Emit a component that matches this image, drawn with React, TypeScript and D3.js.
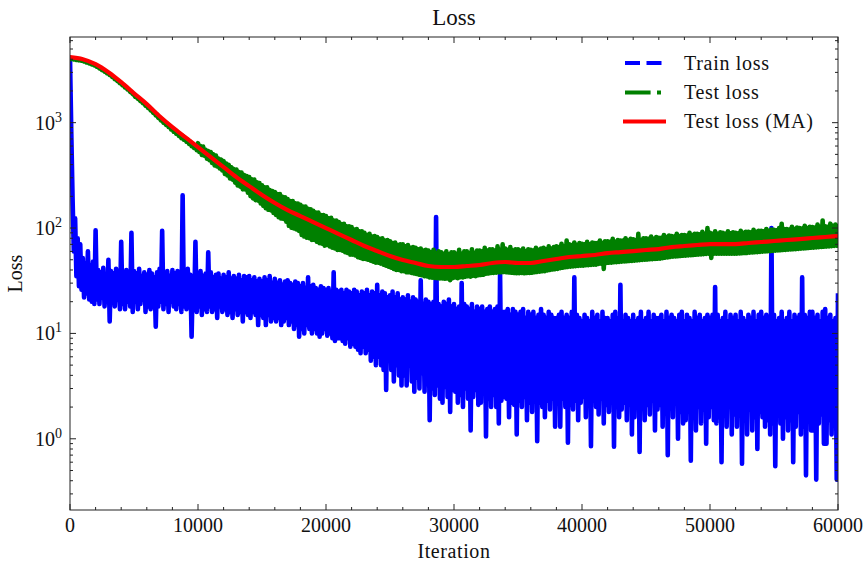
import React from 'react';
import * as d3 from 'd3';

const TOTAL_ITERS = 60000;
const MA_STEP = 1000;

// Train loss, one value every 100 iterations (rows = 1000 iterations)
const TRAIN_LOSS = [
  4100, 800, 190, 60, 124, 35, 80, 28, 70, 26,
  52, 22, 46, 24, 60, 21, 44, 20, 48, 19,
  95, 21, 40, 19, 38, 22, 42, 18, 36, 20,
  50, 13, 39, 20, 37, 18, 41, 21, 35, 17,
  74, 19, 38, 17, 40, 20, 36, 18, 90, 16,
  39, 20, 37, 17, 41, 19, 35, 21, 38, 16,
  36, 18, 40, 17, 37, 19, 34, 11.6, 38, 18,
  41, 20, 94, 17, 36, 19, 39, 16, 35, 20,
  40, 18, 37, 17, 39, 19, 36, 16, 205, 18,
  38, 17, 41, 19, 36, 9.3, 35, 18, 74, 16,
  36, 18, 39, 15, 35, 17, 37, 16, 59, 18,
  38, 16, 34, 17, 36, 14, 37, 18, 33, 16,
  36, 17, 34, 15, 38, 16, 33, 14, 35, 17,
  33, 15, 36, 16, 32, 13, 35, 16, 34, 15,
  35, 14, 32, 16, 34, 15, 31, 12, 33, 15,
  31, 14, 34, 12, 32, 15, 35, 13, 30, 14,
  33, 13, 30, 14, 32, 12, 29, 13, 31, 14,
  32, 12, 30, 13, 29, 11, 31, 12, 30, 9.3,
  28, 11, 30, 10, 27, 12, 34, 11, 28, 10,
  29, 11, 27, 10, 26, 9.3, 28, 10, 27, 11,
  26, 9.5, 27, 10, 25, 9, 38, 8.5, 26, 9,
  25, 9, 26, 8.5, 24, 8, 26, 9, 25, 7.5,
  24, 8, 26, 7.5, 25, 7, 23, 6.5, 25, 7.5,
  24, 6.5, 26, 7, 23, 5.5, 25, 6, 24, 5,
  29, 6, 23, 5, 25, 4.5, 24, 2.9, 22, 5.5,
  23, 4.5, 25, 3.5, 22, 5, 24, 4, 21, 3.2,
  22, 4, 21, 3.2, 23, 5, 20, 3.5, 22, 2.8,
  21, 3.8, 20, 3.0, 32, 4.2, 19, 2.8, 21, 3.3,
  20, 1.5, 19, 3, 20, 2.6, 127, 3.2, 19, 2.4,
  18, 2.2, 20, 3.1, 19, 2.5, 21, 1.8, 18, 2.9,
  19, 2.8, 17, 2.2, 18, 2.6, 30, 2.0, 19, 3,
  18, 2.4, 17, 1.2, 19, 2.5, 16, 2.9, 18, 2.1,
  17, 2.2, 18, 2.7, 16, 1.05, 17, 2.4, 18, 2.0,
  16, 2.6, 17, 2.0, 18, 1.4, 37, 2.3, 16, 2.5,
  16, 2.4, 17, 1.6, 15, 2.2, 17, 2.1, 16, 1.1,
  15, 2.3, 16, 2.0, 17, 2.5, 14, 1.5, 16, 2.2,
  15, 1.8, 16, 2.5, 14, 0.95, 15, 2.2, 17, 2.0,
  15, 1.6, 14, 2.3, 16, 1.9, 15, 2.4, 14, 1.3,
  14, 2.2, 15, 1.3, 16, 2.4, 14, 2.0, 15, 0.92,
  14, 2.1, 16, 1.9, 34, 2.3, 15, 1.5, 14, 2.2,
  13, 2.5, 15, 1.6, 14, 2.1, 13, 0.85, 16, 2.3,
  14, 2.0, 15, 1.7, 13, 2.4, 16, 1.4, 14, 2.1,
  14, 1.8, 13, 2.4, 15, 0.84, 16, 2.0, 14, 1.6,
  29, 1.9, 13, 2.2, 15, 1.5, 14, 2.3, 13, 1.1,
  15, 1.6, 13, 2.0, 14, 0.75, 16, 2.2, 13, 1.5,
  14, 2.1, 16, 1.7, 13, 2.3, 15, 1.2, 14, 1.9,
  14, 2.1, 15, 1.3, 13, 1.8, 16, 0.7, 14, 2.0,
  15, 1.6, 14, 2.2, 13, 1.0, 15, 1.8, 16, 1.4,
  13, 1.5, 15, 1.9, 14, 0.62, 13, 1.7, 16, 1.2,
  14, 2.0, 15, 1.4, 13, 1.9, 14, 0.9, 15, 1.6,
  14, 2.0, 15, 1.5, 27.6, 1.4, 15, 1.6, 13, 0.6,
  14, 1.8, 16, 1.3, 13, 2.0, 15, 1.1, 14, 1.7,
  15, 1.3, 13, 1.7, 16, 0.58, 14, 1.5, 13, 1.1,
  15, 1.9, 14, 1.2, 16, 1.6, 13, 0.8, 15, 1.8,
  16, 1.6, 14, 1.3, 15, 1.5, 13, 1.1, 100, 1.4,
  15, 0.55, 13, 1.7, 14, 1.4, 16, 1.0, 13, 1.6,
  14, 1.2, 16, 1.5, 13, 0.6, 15, 1.3, 14, 1.8,
  15, 1.1, 34, 1.3, 15, 0.45, 14, 1.6, 16, 1.2,
  16, 1.2, 14, 0.41, 15, 1.4, 13, 1.7, 16, 0.9,
  17, 0.9, 14, 1.5, 15, 1.1, 13, 1.4, 14, 0.41,
  24,
];

// Test loss, one value every 100 iterations
const TEST_LOSS = [
  4080, 4010, 4040, 3980, 4000, 3940, 3970, 3900, 3930, 3870,
  3910, 3810, 3830, 3720, 3750, 3640, 3670, 3560, 3590, 3490,
  3510, 3390, 3390, 3270, 3270, 3160, 3160, 3050, 3050, 2940,
  2950, 2830, 2820, 2710, 2700, 2590, 2590, 2480, 2480, 2370,
  2370, 2270, 2260, 2160, 2150, 2060, 2050, 1960, 1950, 1870,
  1850, 1760, 1760, 1680, 1680, 1600, 1600, 1530, 1530, 1450,
  1460, 1380, 1390, 1310, 1320, 1240, 1250, 1170, 1190, 1110,
  1120, 1050, 1070, 1000, 1020, 955, 975, 910, 930, 865,
  885, 820, 850, 785, 815, 750, 780, 715, 750, 690,
  715, 660, 690, 630, 660, 600, 630, 575, 605, 548,
  639, 527, 599, 493, 594, 486, 553, 455, 538, 440,
  527, 415, 500, 392, 487, 384, 458, 368, 446, 352,
  432, 326, 409, 315, 398, 295, 377, 288, 364, 270,
  359, 253, 340, 247, 336, 233, 318, 232, 312, 216,
  305, 201, 290, 191, 288, 184, 271, 182, 267, 171,
  255, 162, 243, 154, 243, 149, 229, 147, 224, 139,
  220, 133, 210, 127, 210, 123, 198, 122, 196, 115,
  188, 105, 180, 101, 180, 99, 172, 97, 171, 94,
  166, 86, 160, 83, 160, 81, 152, 80, 151, 77,
  146, 77, 140, 74, 140, 72, 133, 71, 133, 68,
  130, 69, 124, 67, 125, 65, 118, 64, 118, 62,
  114, 62, 109, 61, 110, 59, 104, 58, 104, 56,
  102, 56, 97, 55, 98, 53, 93, 52, 93, 51,
  90, 51, 86, 50, 88, 49, 83, 48, 84, 47,
  82, 47, 79, 46, 80, 45, 76, 44, 77, 43,
  75, 42, 72, 41, 73, 40, 69, 40, 70, 39,
  70, 39, 67, 38, 69, 38, 65, 37.5, 66, 37,
  65, 36.6, 63, 36, 64, 35.6, 61, 35, 62, 34.7,
  61, 34, 59, 33.8, 62, 33.6, 58, 33.5, 60, 33.3,
  59, 33.3, 57, 33, 60, 33.3, 56, 32, 59, 33.5,
  59, 34, 57, 33.5, 62, 34.2, 57, 34, 60, 34.5,
  60, 35, 58, 34.6, 63, 35.3, 58, 35, 61, 35.6,
  61, 35.8, 60, 36, 65, 36.8, 61, 37, 63, 37.4,
  63, 37.5, 61, 37.7, 67, 38, 62, 38, 70, 38.3,
  64, 38, 62, 37.8, 66, 37.6, 61, 37.4, 63, 37.3,
  63, 37.3, 61, 37.5, 64, 37.2, 60, 37.4, 63, 37.5,
  62, 37.6, 61, 38, 65, 38.4, 62, 38.6, 64, 38.9,
  65, 39, 63, 39.6, 67, 40, 64, 40.4, 66, 40.7,
  67, 41, 66, 41.6, 71, 42, 67, 42.4, 76, 42.8,
  70, 43, 69, 43.2, 73, 43.5, 69, 43.7, 72, 44,
  71, 44, 70, 44.3, 74, 44.5, 70, 44.7, 73, 45,
  72, 45, 72, 45.7, 76, 46, 72, 41, 75, 46.6,
  75, 46.8, 74, 47, 79, 47.3, 74, 47.5, 77, 47.7,
  76, 47.9, 76, 48.2, 80, 48.4, 76, 48.6, 79, 48.8,
  78, 49, 77, 49.3, 88, 49.5, 77, 49.8, 80, 50,
  80, 50.2, 79, 50.5, 83, 50.7, 79, 50.9, 82, 51.1,
  81, 51.3, 81, 51.8, 86, 52.3, 82, 52.7, 85, 53.2,
  84, 53.5, 83, 53.7, 88, 54, 84, 54.3, 86, 54.5,
  86, 54.7, 85, 55, 90, 55.2, 86, 55.5, 88, 55.7,
  88, 56, 87, 56.2, 92, 56.5, 88, 56.7, 100, 57,
  90, 52, 88, 57, 93, 57, 88, 57, 91, 57,
  90, 57, 88, 57, 93, 57, 89, 57, 91, 57,
  90, 57.2, 89, 57.4, 94, 57.7, 90, 57.9, 92, 58.1,
  92, 58.4, 91, 58.6, 96, 58.9, 92, 59.1, 94, 59.4,
  94, 59.7, 93, 59.9, 98, 60.2, 94, 60.4, 97, 60.7,
  96, 61, 95, 61.3, 100, 61.5, 110, 61.8, 98, 62,
  98, 62.4, 97, 62.6, 103, 62.9, 98, 63.1, 101, 63.4,
  100, 63.7, 99, 64, 105, 64.3, 100, 64.6, 103, 65,
  102, 65.2, 101, 65.5, 108, 65.8, 103, 66.1, 118, 66.4,
  104, 66.7, 103, 67, 110, 67.3, 105, 67.6, 108, 67.9,
  110,
];

// Moving average of test loss, one value every 1000 iterations
const TEST_MA = [
  4180, 4000, 3590, 3010, 2420, 1900, 1500, 1150, 907, 729,
  586, 471, 379, 304, 250, 206, 173, 148, 130, 114,
  100, 87.7, 77, 67.5, 60.5, 54.3, 49.7, 46.6, 43.6, 42.7,
  42.7, 43.6, 44.6, 46.6, 47.6, 46.6, 46.6, 48.7, 50.8, 53.1,
  54.3, 55.5, 57.9, 59.2, 60.5, 61.9, 63.2, 66.0, 67.5, 69.0,
  70.5, 70.5, 70.5, 72.1, 73.7, 75.3, 77.0, 78.6, 80.4, 82.2,
  84.0,
];

const X_TICKS = [0, 10000, 20000, 30000, 40000, 50000, 60000];
const Y_TICK_EXPONENTS = [0, 1, 2, 3];
const LEGEND_LABELS = ['Train loss', 'Test loss', 'Test loss (MA)'];
const TITLE = 'Loss';
const X_LABEL = 'Iteration';
const Y_LABEL = 'Loss';

const FONT = "'Liberation Serif', 'Times New Roman', serif";

export default function App() {
  const W = 866, H = 564;
  const L = 70, R = 838, T = 37, B = 510;
  const x = d3.scaleLinear().domain([0, TOTAL_ITERS]).range([L, R]);
  const y = d3.scaleLog().domain([0.211, 6500]).range([B, T]);

  const line = d3.line<[number, number]>().x(d => x(d[0])).y(d => y(d[1]));
  const smooth = d3.line<[number, number]>().x(d => x(d[0])).y(d => y(d[1])).curve(d3.curveMonotoneX);

  const toPts = (arr: number[]) => {
    const step = TOTAL_ITERS / (arr.length - 1);
    return arr.map((v, i) => [i * step, v] as [number, number]);
  };
  const trainPts = toPts(TRAIN_LOSS);
  const testPts = toPts(TEST_LOSS);
  const maPts = TEST_MA.map((v, i) => [i * MA_STEP, v] as [number, number]);

  const xMinor = d3.range(0, 60001, 2000).filter(v => v % 10000 !== 0);
  const yMinor: number[] = [];
  for (let e = -1; e <= 3; e++) {
    for (let m = 2; m <= 9; m++) {
      const v = m * Math.pow(10, e);
      if (v > 0.211 && v < 6500) yMinor.push(v);
    }
  }
  const majLen = 6, minLen = 3;
  const tickColor = '#222';

  const legendY = [63, 92.5, 121.5];
  const legendStyles = [
    { stroke: '#0000ff', dash: '15 6.5', cap: 'butt' },
    { stroke: '#008000', dash: '25.6 6.4 4 6.4', cap: 'butt' },
    { stroke: '#ff0000', dash: undefined, cap: 'square' },
  ];

  return (
    <div style={{ position: 'absolute', left: 0, top: 0 }}>
      <svg width={W} height={H} viewBox={`0 0 ${W} ${H}`} style={{ display: 'block', background: '#fff' }}>
        <defs>
          <clipPath id="plotclip">
            <rect x={L} y={T} width={R - L} height={B - T} />
          </clipPath>
        </defs>
        <g clipPath="url(#plotclip)">
          <path d={line(trainPts) || ''} fill="none" stroke="#0000ff" strokeWidth={4.6}
            strokeLinejoin="round" />
          <path d={line(testPts) || ''} fill="none" stroke="#008000" strokeWidth={4.6}
            strokeLinejoin="round" />
          <path d={smooth(maPts) || ''} fill="none" stroke="#ff0000" strokeWidth={4.2}
            strokeLinejoin="round" strokeLinecap="square" />
        </g>

        <rect x={L} y={T} width={R - L} height={B - T} fill="none" stroke={tickColor} strokeWidth={1} />

        {X_TICKS.map(v => (
          <g key={'xt' + v}>
            <line x1={x(v)} x2={x(v)} y1={B} y2={B - majLen} stroke={tickColor} />
            <line x1={x(v)} x2={x(v)} y1={T} y2={T + majLen} stroke={tickColor} />
            <text x={x(v)} y={532} textAnchor="middle" fontFamily={FONT} fontSize={20} fill="#111">{v}</text>
          </g>
        ))}
        {xMinor.map(v => (
          <g key={'xm' + v}>
            <line x1={x(v)} x2={x(v)} y1={B} y2={B - minLen} stroke={tickColor} />
            <line x1={x(v)} x2={x(v)} y1={T} y2={T + minLen} stroke={tickColor} />
          </g>
        ))}

        {Y_TICK_EXPONENTS.map(e => {
          const v = Math.pow(10, e);
          const yy = y(v);
          return (
            <g key={'yt' + e}>
              <line x1={L} x2={L + majLen} y1={yy} y2={yy} stroke={tickColor} />
              <line x1={R} x2={R - majLen} y1={yy} y2={yy} stroke={tickColor} />
              <text x={62} y={yy + 7} textAnchor="end" fontFamily={FONT} fontSize={20} fill="#111">
                10<tspan dy={-8} fontSize={14}>{e}</tspan>
              </text>
            </g>
          );
        })}
        {yMinor.map(v => (
          <g key={'ym' + v}>
            <line x1={L} x2={L + minLen} y1={y(v)} y2={y(v)} stroke={tickColor} />
            <line x1={R} x2={R - minLen} y1={y(v)} y2={y(v)} stroke={tickColor} />
          </g>
        ))}

        <text x={(L + R) / 2} y={25} textAnchor="middle" fontFamily={FONT} fontSize={23} fill="#111">{TITLE}</text>
        <text x={(L + R) / 2} y={558} textAnchor="middle" fontFamily={FONT} fontSize={20} letterSpacing={0.6} fill="#111">{X_LABEL}</text>
        <text transform={`translate(22, ${(T + B) / 2}) rotate(-90)`} textAnchor="middle" fontFamily={FONT} fontSize={20} fill="#111">{Y_LABEL}</text>

        {LEGEND_LABELS.map((lab, i) => (
          <g key={'lg' + i}>
            <line x1={625} x2={i === 2 ? 664 : 662} y1={legendY[i]} y2={legendY[i]}
              stroke={legendStyles[i].stroke} strokeWidth={4}
              strokeDasharray={legendStyles[i].dash} strokeLinecap={legendStyles[i].cap as any} />
            <text x={684} y={legendY[i] + 6.5} fontFamily={FONT} fontSize={20} letterSpacing={0.7} fill="#111">{lab}</text>
          </g>
        ))}
      </svg>
    </div>
  );
}
